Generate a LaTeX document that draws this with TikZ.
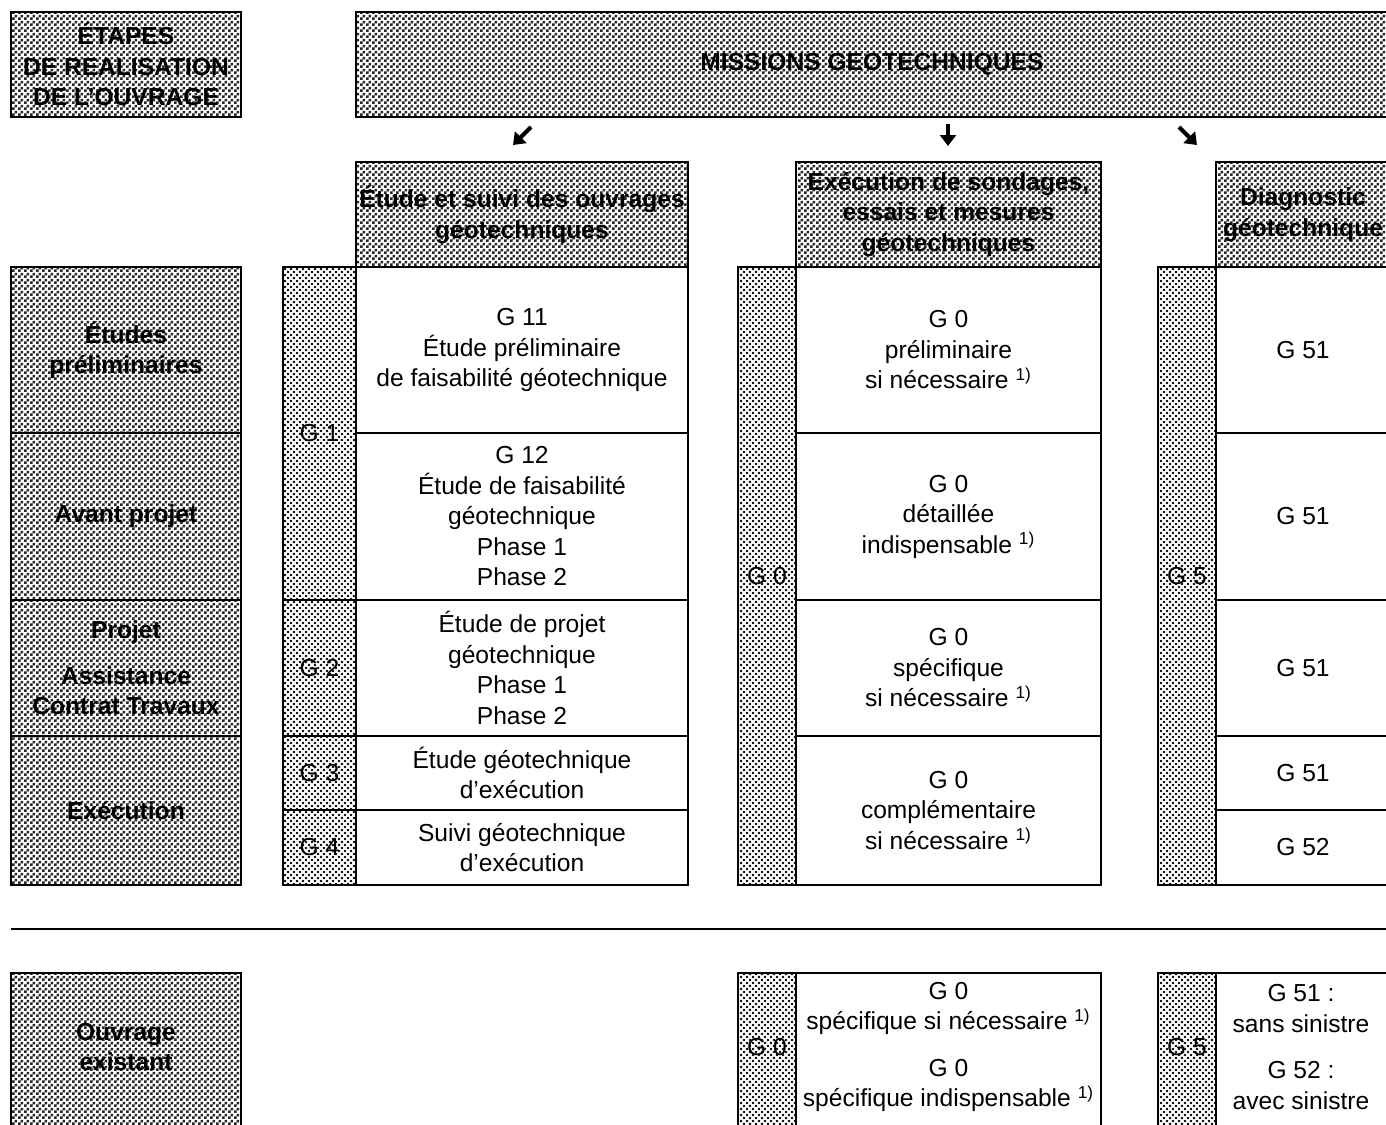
\documentclass[tikz,border=0pt]{standalone}
\usepackage{fontspec}
\setmainfont{Liberation Sans}
\usetikzlibrary{patterns,arrows.meta}

\pgfdeclarepatternformonly{darkcheck}{\pgfpointorigin}{\pgfqpoint{3pt}{3pt}}{\pgfqpoint{3pt}{3pt}}{%
  \pgfpathrectangle{\pgfpointorigin}{\pgfqpoint{1.5pt}{1.5pt}}%
  \pgfpathrectangle{\pgfqpoint{1.5pt}{1.5pt}}{\pgfqpoint{1.5pt}{1.5pt}}%
  \pgfusepath{fill}%
}
\pgfdeclarepatternformonly{lightdots}{\pgfqpoint{-1pt}{-1pt}}{\pgfqpoint{2.5pt}{2.5pt}}{\pgfqpoint{3pt}{3pt}}{%
  \pgfpathcircle{\pgfpointorigin}{.65pt}%
  \pgfpathcircle{\pgfqpoint{1.5pt}{1.5pt}}{.65pt}%
  \pgfusepath{fill}%
}

\tikzset{
  bodytxt/.style={align=center, inner sep=0pt, font=\fontsize{12.3pt}{15.25pt}\selectfont},
  headtxt/.style={bodytxt, font=\fontsize{12.3pt}{15.25pt}\selectfont\bfseries},
  cell/.style={bodytxt, draw, line width=1pt},
  darkcell/.style={headtxt, draw, line width=1pt, preaction={fill=white},
    pattern=darkcheck, pattern color=black!85},
  dotcell/.style={cell, preaction={fill=white}, pattern=lightdots, pattern color=black},
  fatarrow/.style={line width=2pt, -{Triangle[length=5.5pt,width=8pt]}},
}

\newcommand{\Cell}[7]{% name, style, x, y, w, h, text
  \node[#2, minimum width=#5*.5pt, minimum height=#6*.5pt] (#1) at ({#3+(#5)/2},{#4+(#6)/2}) {#7};
}

\begin{document}
\begin{tikzpicture}[x=.5pt, y=-.5pt]
  \useasboundingbox (0,0) rectangle (1386,1124);
  \clip (0,0) rectangle (1386,1124);
  %
  \Cell{etapes}{darkcell}{11}{12}{230}{105}{ÉTAPES\\DE REALISATION\\DE L’OUVRAGE}
  \Cell{missions}{darkcell}{356}{12}{1032}{105}{MISSIONS GEOTECHNIQUES}
  %
  \coordinate (arrL-s) at (531,127); \coordinate (arrL-e) at (513,145);
  \coordinate (arrM-s) at (948,124); \coordinate (arrM-e) at (948,146);
  \coordinate (arrR-s) at (1179,127); \coordinate (arrR-e) at (1197,145);
  \draw[fatarrow] (arrL-s) -- (arrL-e);
  \draw[fatarrow] (arrM-s) -- (arrM-e);
  \draw[fatarrow] (arrR-s) -- (arrR-e);
  %
  \Cell{suivi}{darkcell}{356}{162}{332}{105}{Étude et suivi des ouvrages\\géotechniques}
  \Cell{sondages}{darkcell}{796}{162}{305}{105}{Exécution de sondages,\\essais et mesures\\géotechniques}
  \Cell{diag}{darkcell}{1216}{162}{174}{105}{Diagnostic\\géotechnique}
  %
  \Cell{prelim}{darkcell}{11}{267}{230}{166}{Études\\préliminaires}
  \Cell{avp}{darkcell}{11}{433}{230}{167}{Avant projet}
  \Cell{projet}{darkcell}{11}{600}{230}{136}{Projet\\[7.5pt]Assistance\\Contrat Travaux}
  \Cell{exe}{darkcell}{11}{736}{230}{149}{Exécution}
  %
  \Cell{g1}{dotcell}{283}{267}{73}{333}{G 1}
  \Cell{g2}{dotcell}{283}{600}{73}{136}{G 2}
  \Cell{g3}{dotcell}{283}{736}{73}{74}{G 3}
  \Cell{g4}{dotcell}{283}{810}{73}{75}{G 4}
  \Cell{g11}{cell}{356}{267}{332}{166}{G 11\\Étude préliminaire\\de faisabilité géotechnique}
  \Cell{g12}{cell}{356}{433}{332}{167}{G 12\\Étude de faisabilité\\géotechnique\\Phase 1\\Phase 2}
  \Cell{g2c}{cell}{356}{600}{332}{136}{Étude de projet\\géotechnique\\Phase 1\\Phase 2}
  \Cell{g3c}{cell}{356}{736}{332}{74}{Étude géotechnique\\d’exécution}
  \Cell{g4c}{cell}{356}{810}{332}{75}{Suivi géotechnique\\d’exécution}
  %
  \Cell{g0}{dotcell}{738}{267}{58}{618}{G 0}
  \Cell{g0a}{cell}{796}{267}{305}{166}{G 0\\préliminaire\\si nécessaire \textsuperscript{1)}}
  \Cell{g0b}{cell}{796}{433}{305}{167}{G 0\\détaillée\\indispensable \textsuperscript{1)}}
  \Cell{g0c}{cell}{796}{600}{305}{136}{G 0\\spécifique\\si nécessaire \textsuperscript{1)}}
  \Cell{g0d}{cell}{796}{736}{305}{149}{G 0\\complémentaire\\si nécessaire \textsuperscript{1)}}
  %
  \Cell{g5}{dotcell}{1158}{267}{58}{618}{G 5}
  \Cell{g51a}{cell}{1216}{267}{174}{166}{G 51}
  \Cell{g51b}{cell}{1216}{433}{174}{167}{G 51}
  \Cell{g51c}{cell}{1216}{600}{174}{136}{G 51}
  \Cell{g51d}{cell}{1216}{736}{174}{74}{G 51}
  \Cell{g52}{cell}{1216}{810}{174}{75}{G 52}
  %
  \coordinate (sepL) at (11,929); \coordinate (sepR) at (1390,929);
  \draw[line width=1pt] (sepL) -- (sepR);
  %
  \Cell{existant}{darkcell}{11}{973}{230}{170}{}
  \node[headtxt] (existant-t) at (126,1047) {Ouvrage\\existant};
  \Cell{g0ex}{dotcell}{738}{973}{58}{170}{}
  \node[bodytxt] (g0ex-t) at (767,1047) {G 0};
  \Cell{g0exc}{cell}{796}{973}{305}{170}{}
  \node[bodytxt] (g0exc-t) at (948.5,1047) {G 0\\spécifique si nécessaire \textsuperscript{1)}\\[8pt]G 0\\spécifique indispensable \textsuperscript{1)}};
  \Cell{g5ex}{dotcell}{1158}{973}{58}{170}{}
  \node[bodytxt] (g5ex-t) at (1187,1047) {G 5};
  \Cell{g5exc}{cell}{1216}{973}{174}{170}{}
  \node[bodytxt] (g5exc-t) at (1301,1047) {G 51 :\\sans sinistre\\[8pt]G 52 :\\avec sinistre};
\end{tikzpicture}
\end{document}
